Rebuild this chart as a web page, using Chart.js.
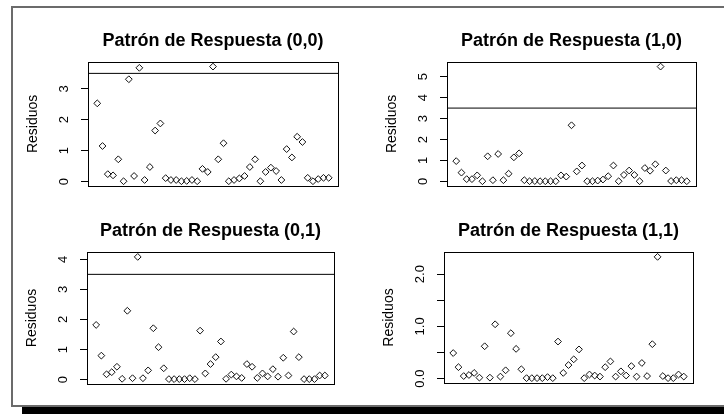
<!DOCTYPE html>
<html>
<head>
<meta charset="utf-8">
<script src="https://cdn.jsdelivr.net/npm/chart.js@4.4.1/dist/chart.umd.min.js"></script>
<style>
  html, body { margin: 0; padding: 0; background: #fff; }
  #page { position: relative; width: 724px; height: 414px; overflow: hidden; background: #fff; }
  #frame { position: absolute; left: 11px; top: 6px; width: 713px; height: 401px; box-sizing: border-box;
           border-left: 2px solid #6b6b6b; border-top: 2px solid #6b6b6b; border-bottom: 2px solid #6b6b6b; }
  #shadow { position: absolute; left: 22px; top: 407px; width: 702px; height: 7px; background: #000; }
  canvas { position: absolute; }
</style>
</head>
<body>
<div id="page">
  <div id="frame"></div>
  <div id="shadow"></div>
  <canvas id="p00" width="362" height="207" style="left:0;top:0"></canvas>
  <canvas id="p10" width="362" height="207" style="left:362px;top:0"></canvas>
  <canvas id="p01" width="362" height="207" style="left:0;top:207px"></canvas>
  <canvas id="p11" width="362" height="207" style="left:362px;top:207px"></canvas>
</div>
<script>
// Standardised residuals for each response pattern, one value per observation
const residuos00 = [2.53, 1.15, 0.24, 0.20, 0.72, 0.01, 3.31, 0.18, 3.68, 0.05,
                    0.47, 1.65, 1.88, 0.11, 0.05, 0.05, 0.01, 0.02, 0.05, 0.01,
                    0.41, 0.31, 3.72, 0.72, 1.24, 0.01, 0.05, 0.10, 0.18, 0.47,
                    0.72, 0.01, 0.31, 0.45, 0.34, 0.05, 1.05, 0.78, 1.45, 1.28,
                    0.12, 0.01, 0.08, 0.12, 0.12];
const residuos10 = [0.97, 0.42, 0.11, 0.11, 0.29, 0.01, 1.20, 0.06, 1.31, 0.06,
                    0.37, 1.15, 1.34, 0.06, 0.01, 0.02, 0.01, 0.01, 0.01, 0.01,
                    0.29, 0.23, 2.68, 0.48, 0.76, 0.01, 0.01, 0.04, 0.09, 0.25,
                    0.76, 0.01, 0.31, 0.52, 0.31, 0.01, 0.64, 0.51, 0.82, 5.48,
                    0.52, 0.02, 0.06, 0.06, 0.01];
const residuos01 = [1.82, 0.80, 0.18, 0.25, 0.43, 0.03, 2.29, 0.05, 4.08, 0.05,
                    0.31, 1.71, 1.08, 0.38, 0.02, 0.02, 0.02, 0.02, 0.05, 0.02,
                    1.63, 0.21, 0.52, 0.75, 1.27, 0.03, 0.17, 0.11, 0.06, 0.52,
                    0.43, 0.06, 0.21, 0.11, 0.35, 0.10, 0.73, 0.14, 1.60, 0.75,
                    0.02, 0.02, 0.02, 0.14, 0.14];
const residuos11 = [0.49, 0.22, 0.05, 0.07, 0.11, 0.02, 0.62, 0.02, 1.04, 0.04,
                    0.16, 0.87, 0.57, 0.18, 0.01, 0.01, 0.01, 0.01, 0.03, 0.01,
                    0.71, 0.11, 0.26, 0.37, 0.56, 0.01, 0.08, 0.06, 0.04, 0.22,
                    0.33, 0.04, 0.14, 0.06, 0.24, 0.04, 0.30, 0.05, 0.66, 2.33,
                    0.05, 0.01, 0.01, 0.08, 0.04];

// Panel titles
const titles = ['Patrón de Respuesta (0,0)', 'Patrón de Respuesta (1,0)',
                'Patrón de Respuesta (0,1)', 'Patrón de Respuesta (1,1)'];

// y-axis tick positions and their labels
const ticks00 = [0, 1, 2, 3];           const tickLabels00 = ['0', '1', '2', '3'];
const ticks10 = [0, 1, 2, 3, 4, 5];     const tickLabels10 = ['0', '1', '2', '3', '4', '5'];
const ticks01 = [0, 1, 2, 3, 4];        const tickLabels01 = ['0', '1', '2', '3', '4'];
const ticks11 = [0, 0.5, 1, 1.5, 2];    const tickLabels11 = ['0.0', '', '1.0', '', '2.0'];

// Reference cut-off drawn as a horizontal line
const CUTOFF = 3.5;

const FONT = "'Liberation Sans', Arial, sans-serif";
const TICK_PX = 13;
const W = 362, H = 207;

const measure = document.createElement('canvas').getContext('2d');

// Plot box drawn around the chart area
const plotBox = {
  id: 'plotBox',
  afterDatasetsDraw(chart) {
    const { ctx, chartArea: a } = chart;
    ctx.save();
    ctx.strokeStyle = '#000';
    ctx.lineWidth = 1;
    ctx.strokeRect(Math.round(a.left) + 0.5, Math.round(a.top) + 0.5,
                   Math.round(a.right - a.left), Math.round(a.bottom - a.top));
    ctx.restore();
  }
};

function panel(id, title, values, tickVals, tickLbls, box) {
  const n = values.length;
  const points = values.map((v, i) => ({ x: i + 1, y: v }));
  const lo = Math.min(...values), hi = Math.max(...values);
  const yPad = 0.04 * (hi - lo);
  const xPad = 0.04 * (n - 1);
  measure.font = TICK_PX + 'px ' + FONT;
  const widest = Math.max(...tickLbls.map(t => measure.measureText(t).width));
  const titleLine = 18 * 1.2;

  new Chart(document.getElementById(id), {
    type: 'scatter',
    data: {
      datasets: [
        {
          type: 'line',
          data: [{ x: 1 - xPad, y: CUTOFF }, { x: n + xPad, y: CUTOFF }],
          borderColor: '#000', borderWidth: 1, pointRadius: 0, fill: false
        },
        {
          data: points,
          pointStyle: 'rectRot', pointRadius: 3.4, borderWidth: 1,
          borderColor: '#111', backgroundColor: 'rgba(0,0,0,0)'
        }
      ]
    },
    options: {
      responsive: false, animation: false, events: [],
      layout: { padding: { left: 0, top: 0, right: W - box.right, bottom: H - box.bottom } },
      plugins: {
        legend: { display: false },
        tooltip: { enabled: false },
        title: {
          display: true, text: title, fullSize: false, color: '#000',
          font: { family: FONT, size: 18, weight: 'bold', lineHeight: 1.2 },
          padding: { top: box.top - titleLine - 10, bottom: 10 }
        }
      },
      scales: {
        x: { type: 'linear', display: false, min: 1 - xPad, max: n + xPad },
        y: {
          type: 'linear', min: lo - yPad, max: hi + yPad,
          afterFit(s) { s.width = box.left; },
          afterBuildTicks(s) { s.ticks = tickVals.map(v => ({ value: v })); },
          ticks: {
            callback: (v, i) => tickLbls[i],
            autoSkip: false, minRotation: 90, maxRotation: 90,
            crossAlign: 'center', padding: 17 - widest / 2,
            color: '#000', font: { family: FONT, size: TICK_PX }
          },
          grid: { drawOnChartArea: false, drawTicks: true, tickLength: 7, color: '#000', lineWidth: 1 },
          border: { display: true, color: '#000', width: 1 },
          title: {
            display: true, text: 'Residuos', color: '#000',
            font: { family: FONT, size: 14, lineHeight: 1.2 },
            padding: { top: box.left - 55 - 8.4, bottom: 0 }
          }
        }
      }
    },
    plugins: [plotBox]
  });
}

panel('p00', titles[0], residuos00, ticks00, tickLabels00, { left: 88, right: 338, top: 62, bottom: 193 });
panel('p10', titles[1], residuos10, ticks10, tickLabels10, { left: 85, right: 334, top: 62, bottom: 192 });
panel('p01', titles[2], residuos01, ticks01, tickLabels01, { left: 87, right: 334, top: 45, bottom: 177 });
panel('p11', titles[3], residuos11, ticks11, tickLabels11, { left: 82, right: 331, top: 45, bottom: 176 });
</script>
</body>
</html>
